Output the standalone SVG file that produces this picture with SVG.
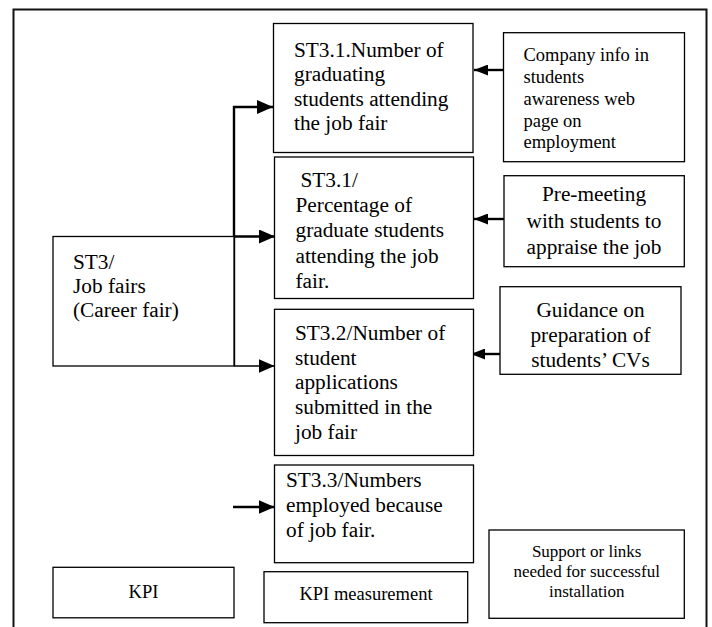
<svg xmlns="http://www.w3.org/2000/svg" width="712" height="627" viewBox="0 0 712 627">
  <style>
    .box { fill: #fff; stroke: #000; stroke-width: 1.3; }
    .frame { fill: none; stroke: #111; stroke-width: 2; }
    .t { font-family: "Liberation Serif", "Times New Roman", serif; fill: #000; }
    .big { font-size: 21.3px; }
    .mid { font-size: 18.5px; }
    .sm { font-size: 17px; }
    .c { text-anchor: middle; }
    .wire { fill: none; stroke: #000; stroke-width: 2.4; }
    .wire-thin { fill: none; stroke: #000; stroke-width: 1.6; }
  </style>
  <defs>
    <marker id="headL" markerUnits="userSpaceOnUse" viewBox="0 0 16 14" refX="16" refY="7" markerWidth="16" markerHeight="14" orient="auto">
      <path d="M0,0 L16,7 L0,14 z" fill="#000"/>
    </marker>
    <marker id="headS" markerUnits="userSpaceOnUse" viewBox="0 0 14 11" refX="14" refY="5.5" markerWidth="14" markerHeight="11" orient="auto">
      <path d="M0,0 L14,5.5 L0,11 z" fill="#000"/>
    </marker>
    <clipPath id="clipPre">
      <rect x="504" y="176" width="180" height="90"/>
    </clipPath>
  </defs>

  <rect width="712" height="627" fill="#fff"/>

  <!-- outer frame, open at the bottom -->
  <path class="frame" d="M13.5,628 V9.5 H706.5 V628"/>

  <!-- connectors -->
  <g id="connectors">
    <path class="wire" d="M234,366 V107 H273" marker-end="url(#headL)"/>
    <path class="wire" d="M234,236.5 H275" marker-end="url(#headL)"/>
    <path class="wire-thin" d="M234,366 H274.5" marker-end="url(#headL)"/>
    <path class="wire" d="M233,507 H274.5" marker-end="url(#headL)"/>
    <path class="wire" d="M503.5,70 H474" marker-end="url(#headS)"/>
    <path class="wire" d="M504,219 H474" marker-end="url(#headS)"/>
    <path class="wire" d="M500,354 H471" marker-end="url(#headS)"/>
  </g>

  <g id="st3">
    <rect class="box" x="53" y="236.5" width="181" height="129.5"/>
    <text class="t big" x="73" y="268.5">ST3/</text>
    <text class="t big" x="73" y="292.5">Job fairs</text>
    <text class="t big" x="73" y="316.8">(Career fair)</text>
  </g>

  <g id="st3-1-number">
    <rect class="box" x="273.5" y="23.5" width="199.5" height="129"/>
    <text class="t big" x="294" y="56.5">ST3.1.Number of</text>
    <text class="t big" x="294" y="81">graduating</text>
    <text class="t big" x="294" y="105.5">students attending</text>
    <text class="t big" x="294" y="130">the job fair</text>
  </g>

  <g id="st3-1-percentage">
    <rect class="box" x="274.5" y="157" width="199" height="141.5"/>
    <text class="t big" x="300.5" y="187">ST3.1/</text>
    <text class="t big" x="295.5" y="212">Percentage of</text>
    <text class="t big" x="295.5" y="237">graduate students</text>
    <text class="t big" x="295.5" y="262.5">attending the job</text>
    <text class="t big" x="295.5" y="287.5">fair.</text>
  </g>

  <g id="st3-2">
    <rect class="box" x="274.5" y="309.3" width="199" height="146.2"/>
    <text class="t big" x="295" y="340">ST3.2/Number of</text>
    <text class="t big" x="295" y="364.5">student</text>
    <text class="t big" x="295" y="389.3">applications</text>
    <text class="t big" x="295" y="414">submitted in the</text>
    <text class="t big" x="295" y="439.3">job fair</text>
  </g>

  <g id="st3-3">
    <rect class="box" x="274.5" y="465" width="199" height="97.7"/>
    <text class="t big" x="286" y="487">ST3.3/Numbers</text>
    <text class="t big" x="286" y="512">employed because</text>
    <text class="t big" x="286" y="537">of job fair.</text>
  </g>

  <g id="company-info">
    <rect class="box" x="503.5" y="32.7" width="181" height="129"/>
    <text class="t mid" x="523.5" y="60.7">Company info in</text>
    <text class="t mid" x="523.5" y="83">students</text>
    <text class="t mid" x="523.5" y="105">awareness web</text>
    <text class="t mid" x="523.5" y="126.5">page on</text>
    <text class="t mid" x="523.5" y="148.3">employment</text>
  </g>

  <g id="pre-meeting">
    <g clip-path="url(#clipPre)">
      <text class="t big c" x="594" y="201">Pre-meeting</text>
      <text class="t big c" x="594" y="227.5">with students to</text>
      <text class="t big c" x="594" y="254">appraise the job</text>
    </g>
    <rect class="box" x="504" y="175.7" width="180.3" height="91" style="fill:none"/>
  </g>

  <g id="guidance">
    <rect class="box" x="500" y="286.7" width="181" height="87.6"/>
    <text class="t big c" x="590.5" y="316.7">Guidance on</text>
    <text class="t big c" x="590.5" y="341.5">preparation of</text>
    <text class="t big c" x="590.5" y="366.5">students’ CVs</text>
  </g>

  <g id="kpi">
    <rect class="box" x="53" y="567.3" width="181" height="50.5"/>
    <text class="t mid c" x="143.5" y="598">KPI</text>
  </g>

  <g id="kpi-measurement">
    <rect class="box" x="264" y="571.7" width="203.7" height="51"/>
    <text class="t mid c" x="366" y="600">KPI measurement</text>
  </g>

  <g id="support">
    <rect class="box" x="489" y="530" width="195.3" height="88.3"/>
    <text class="t sm c" x="586.7" y="556.7">Support or links</text>
    <text class="t sm c" x="586.7" y="576.7">needed for successful</text>
    <text class="t sm c" x="586.7" y="596.7">installation</text>
  </g>
</svg>
